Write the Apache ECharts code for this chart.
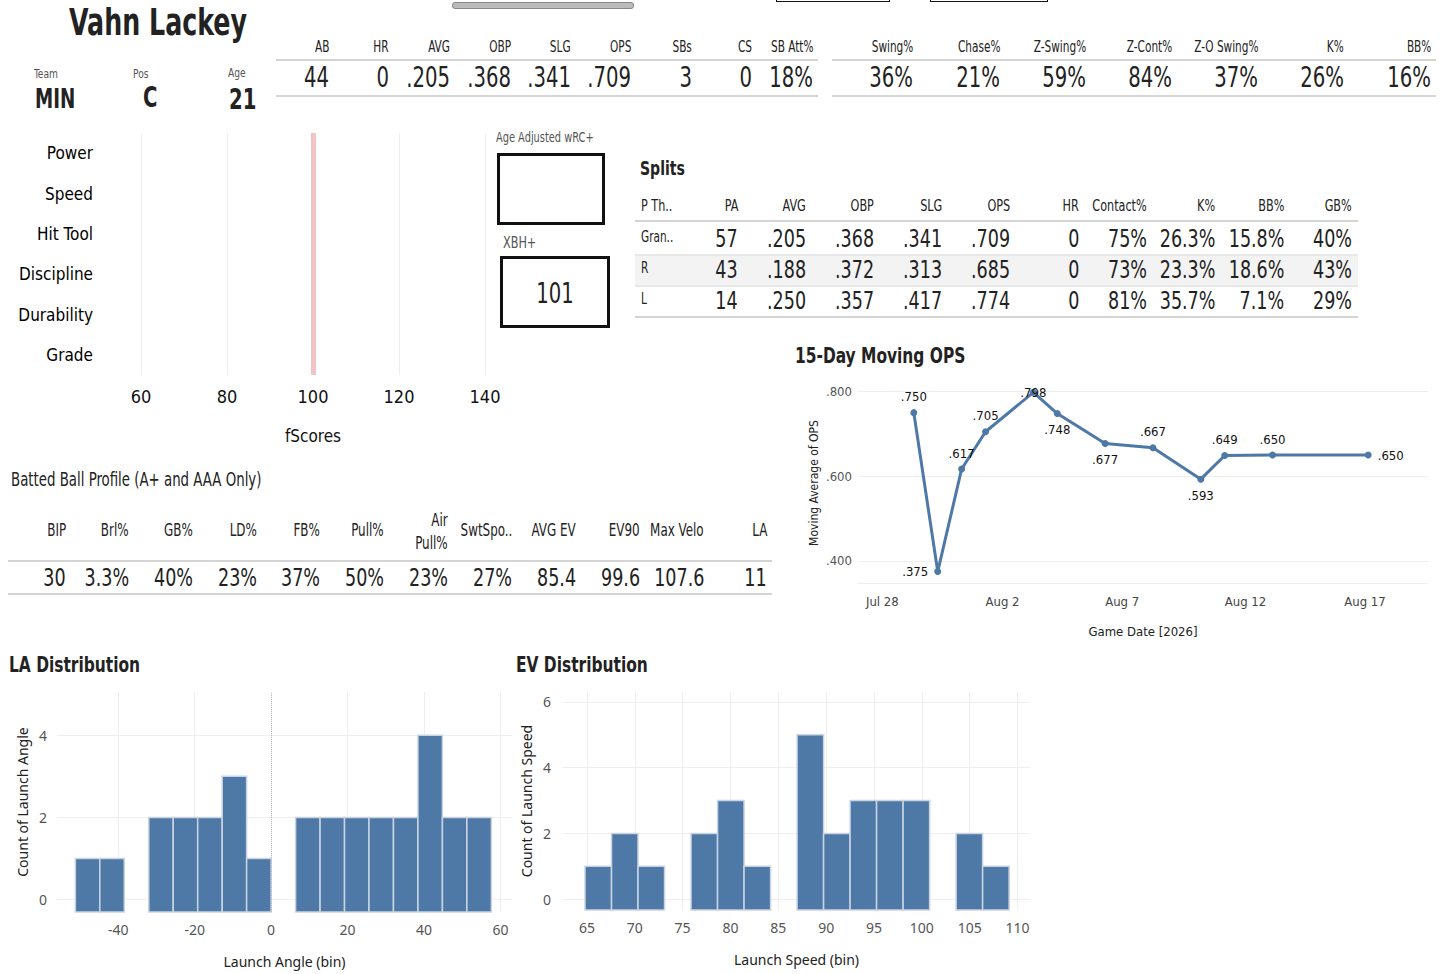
<!DOCTYPE html>
<html><head><meta charset="utf-8">
<script src="https://cdn.jsdelivr.net/npm/echarts@6/dist/echarts.min.js"></script>
<style>
body{margin:0;background:#fff;}
#wrap{position:relative;width:1456px;height:974px;overflow:hidden;font-family:'DejaVu Sans Condensed','DejaVu Sans',sans-serif;font-stretch:condensed;color:#222;}
#chart{position:absolute;left:0;top:0;width:1456px;height:974px;}
.t{position:absolute;white-space:nowrap;line-height:1;}
.ln{position:absolute;height:0;border-top:2px solid #d4d4d4;}
.box{position:absolute;border:3px solid #111;box-sizing:border-box;}
</style></head>
<body><div id="wrap"><div id="chart"></div></div>
<script>
// ---- data ----
var player = 'Vahn Lackey', team = 'MIN', pos = 'C', age = '21';
var statHdr1 = ['AB','HR','AVG','OBP','SLG','OPS','SBs','CS','SB Att%'];
var statVal1 = ['44','0','.205','.368','.341','.709','3','0','18%'];
var statHdr2 = ['Swing%','Chase%','Z-Swing%','Z-Cont%','Z-O Swing%','K%','BB%'];
var statVal2 = ['36%','21%','59%','84%','37%','26%','16%'];
var fCats = ['Power','Speed','Hit Tool','Discipline','Durability','Grade'];
var xbhPlus = '101';
var splitHdr = ['P Th..','PA','AVG','OBP','SLG','OPS','HR','Contact%','K%','BB%','GB%'];
var splitRows = [
  ['Gran..','57','.205','.368','.341','.709','0','75%','26.3%','15.8%','40%'],
  ['R','43','.188','.372','.313','.685','0','73%','23.3%','18.6%','43%'],
  ['L','14','.250','.357','.417','.774','0','81%','35.7%','7.1%','29%']
];
var bbHdr = ['BIP','Brl%','GB%','LD%','FB%','Pull%','Air<br>Pull%','SwtSpo..','AVG EV','EV90','Max Velo','LA'];
var bbVal = ['30','3.3%','40%','23%','37%','50%','23%','27%','85.4','99.6','107.6','11'];
var opsDates = ['2026-07-30','2026-07-31','2026-08-01','2026-08-02','2026-08-04','2026-08-05','2026-08-07','2026-08-09','2026-08-11','2026-08-12','2026-08-14','2026-08-18'];
var opsVals = [0.750,0.375,0.617,0.705,0.798,0.748,0.677,0.667,0.593,0.649,0.650,0.650];
var dateTicks = ['2026-07-28','2026-08-02','2026-08-07','2026-08-12','2026-08-17'];
var laBinStart = [-51.2,-44.8,-38.4,-32,-25.6,-19.2,-12.8,-6.4,0,6.4,12.8,19.2,25.6,32,38.4,44.8,51.2];
var laCounts   = [1,1,0,2,2,2,3,1,0,2,2,2,2,2,4,2,2];
var laBinW = 6.4;
var evBinStart = [64.8,67.57,70.34,73.11,75.88,78.65,81.42,84.19,86.96,89.73,92.5,95.27,98.04,100.81,103.58,106.35];
var evCounts   = [1,2,1,0,2,3,1,0,5,2,3,3,3,0,2,1];
var evBinW = 2.77;

// ---- html tables ----
var wrap = document.getElementById('wrap');
function txt(s, x, y, size, opt){
  opt = opt || {};
  var d = document.createElement('div');
  d.className = 't';
  d.innerHTML = s;
  d.style.fontSize = size + 'px';
  d.style.top = y + 'px';
  var sx = opt.sx || 0.78;
  if (opt.right) { d.style.right = (1456 - x) + 'px'; d.style.textAlign = 'right'; d.style.transformOrigin = 'right top'; }
  else if (opt.center) { d.style.left = (x - 150) + 'px'; d.style.width = '300px'; d.style.textAlign = 'center'; d.style.transformOrigin = 'center top'; }
  else { d.style.left = x + 'px'; d.style.transformOrigin = 'left top'; }
  d.style.transform = 'scaleX(' + sx + ')';
  if (opt.bold) d.style.fontWeight = 'bold';
  if (opt.color) d.style.color = opt.color;
  if (opt.lh) d.style.lineHeight = opt.lh;
  wrap.appendChild(d);
  return d;
}
function line(x1, x2, y, c){
  var d = document.createElement('div'); d.className = 'ln';
  d.style.left = x1 + 'px'; d.style.width = (x2 - x1) + 'px'; d.style.top = y + 'px';
  if (c) d.style.borderTopColor = c;
  wrap.appendChild(d);
}
function box(x, y, w, h, bw){
  var d = document.createElement('div'); d.className = 'box';
  d.style.left = x + 'px'; d.style.top = y + 'px'; d.style.width = w + 'px'; d.style.height = h + 'px';
  if (bw) d.style.borderWidth = bw;
  wrap.appendChild(d);
}

// top slider remnants
var sl = document.createElement('div');
sl.style.cssText = 'position:absolute;left:452px;top:2px;width:180px;height:5px;background:#bbb;border:1px solid #888;border-radius:3px;';
wrap.appendChild(sl);
box(776, -20, 114, 22, '1px'); box(930, -20, 118, 22, '1px');

txt(player, 158, 3, 38, {center:true, bold:true, sx:0.74});
txt('Team', 34, 67, 13, {color:'#555'}); txt('Pos', 133, 67, 13, {color:'#555'}); txt('Age', 228, 66, 13, {color:'#555'});
txt(team, 35, 86, 26, {bold:true}); txt(pos, 143, 84, 28, {bold:true}); txt(age, 229, 86, 28, {bold:true});

var r1 = [329,389,450,511,571,631,692,752,813];
statHdr1.forEach(function(h,i){ txt(h, r1[i], 40, 15, {right:true}); txt(statVal1[i], r1[i], 64, 28, {right:true}); });
line(276, 818, 59); line(276, 818, 95);
var r2 = [913,1000,1086,1172,1258,1344,1431];
statHdr2.forEach(function(h,i){ txt(h, r2[i], 40, 15, {right:true}); txt(statVal2[i], r2[i], 64, 28, {right:true}); });
line(832, 1436, 59); line(832, 1436, 95);

txt('Age Adjusted wRC+', 496, 130, 14, {color:'#555'});
box(497, 153, 108, 72);
txt('XBH+', 503, 235, 16, {color:'#555'});
box(500, 256, 110, 72);
txt(xbhPlus, 555, 280, 28, {center:true});

txt('Splits', 640, 158, 20, {bold:true});
var rs = [738,806,874,942,1010,1079,1147,1215,1284,1352];
splitHdr.forEach(function(h,i){ if(i===0) txt(h, 641, 198, 16); else txt(h, rs[i-1], 198, 16, {right:true}); });
line(635, 1358, 220);
var bgRow = document.createElement('div');
bgRow.style.cssText = 'position:absolute;left:635px;width:723px;top:254px;height:31px;background:#f3f3f3;';
wrap.insertBefore(bgRow, wrap.children[1]);
splitRows.forEach(function(row, k){
  var y = 224 + k * 31;
  row.forEach(function(v,i){ if(i===0) txt(v, 641, y+6, 15); else txt(v, rs[i-1], y+2, 25, {right:true}); });
  line(635, 1358, y + 30, k === 2 ? '#d4d4d4' : '#e8e8e8');
});

txt('Batted Ball Profile (A+ and AAA Only)', 11, 470, 19);
var rb = [66,129,193,257,320,384,448,512,576,640,704,767];
bbHdr.forEach(function(h,i){
  if (i === 6) txt(h, rb[i], 509, 17, {right:true, lh:'23px'});
  else txt(h, rb[i], 522, 17, {right:true});
});
line(8, 772, 560);
bbVal.forEach(function(v,i){ txt(v, rb[i], 565, 25, {right:true}); });
line(8, 772, 593);

txt('15-Day Moving OPS', 795, 345, 22, {bold:true});
txt('LA Distribution', 9, 654, 22, {bold:true});
txt('EV Distribution', 516, 654, 22, {bold:true});

// ---- charts ----
var chart = echarts.init(document.getElementById('chart'), null, {renderer:'svg'});
var cond = "'DejaVu Sans Condensed','Liberation Sans Narrow',sans-serif";
var sans = "'Noto Sans','Open Sans',sans-serif";
var months = ['Jan','Feb','Mar','Apr','May','Jun','Jul','Aug','Sep','Oct','Nov','Dec'];
var grey = '#eeeeee';
var labelPos = ['top','left','top','top','inside','bottom','bottom','top','bottom','top','top','right'];
function ts(s){ var p = s.split('-'); return +new Date(+p[0], +p[1]-1, +p[2]); }
var tickTs = dateTicks.map(ts);

function histItem(w){
  return function(params, api){
    var s = api.value(0), c = api.value(1);
    var p0 = api.coord([s, 0]), p1 = api.coord([s + w, c]);
    var base = api.coord([s, api.value(2)]);
    return {type:'rect', shape:{x:p0[0], y:p1[1], width:p1[0]-p0[0], height:base[1]-p1[1]},
      style:{fill:'#4e79a7', stroke:'#c9d4e2', lineWidth:1.5}};
  };
}
var laData = laBinStart.map(function(s,i){ return [s, laCounts[i], -0.3]; }).filter(function(d){ return d[1] > 0; });
var evData = evBinStart.map(function(s,i){ return [s, evCounts[i], -0.33]; }).filter(function(d){ return d[1] > 0; });

chart.setOption({
  animation:false,
  grid:[
    {left:98, width:430, top:133, height:242},
    {left:858, width:570, top:383, height:200},
    {left:57, width:455, top:692, height:220},
    {left:563, width:467, top:692, height:218}
  ],
  xAxis:[
    {gridIndex:0, type:'value', min:50, max:150, name:'fScores', nameLocation:'middle', nameGap:52,
     nameTextStyle:{fontFamily:cond, fontSize:17, color:'#111'},
     axisLine:{show:false}, axisTick:{show:false, customValues:[60,80,100,120,140]},
     axisLabel:{customValues:[60,80,100,120,140], fontFamily:cond, fontSize:18, color:'#111', margin:12},
     splitLine:{show:true, lineStyle:{color:grey}}},
    {gridIndex:1, type:'value', min:ts('2026-07-28') - 8*3600e3, max:ts('2026-08-20') + 12*3600e3,
     name:'Game Date [2026]', nameLocation:'middle', nameGap:42,
     nameTextStyle:{fontFamily:cond, fontSize:13, color:'#222'},
     axisLine:{lineStyle:{color:grey}}, axisTick:{show:false, customValues:tickTs},
     axisLabel:{customValues:tickTs,
       formatter:function(v){ var d=new Date(v); return months[d.getMonth()]+' '+d.getDate(); },
       fontFamily:cond, fontSize:13, color:'#444', margin:12, align:'left'},
     splitLine:{show:false}},
    {gridIndex:2, type:'value', min:-56, max:63, name:'Launch Angle (bin)', nameLocation:'middle', nameGap:42,
     nameTextStyle:{fontFamily:sans, fontSize:14, color:'#222'},
     axisLine:{lineStyle:{color:grey}}, axisTick:{show:false, customValues:[-40,-20,0,20,40,60]},
     axisLabel:{customValues:[-40,-20,0,20,40,60], fontFamily:sans, fontSize:14, color:'#555', margin:10},
     splitLine:{show:true, lineStyle:{color:grey}}},
    {gridIndex:3, type:'value', min:62.5, max:111.3, name:'Launch Speed (bin)', nameLocation:'middle', nameGap:42,
     nameTextStyle:{fontFamily:sans, fontSize:14, color:'#222'},
     axisLine:{lineStyle:{color:grey}}, axisTick:{show:false, customValues:[65,70,75,80,85,90,95,100,105,110]},
     axisLabel:{customValues:[65,70,75,80,85,90,95,100,105,110], fontFamily:sans, fontSize:14, color:'#555', margin:10},
     splitLine:{show:true, lineStyle:{color:grey}}}
  ],
  yAxis:[
    {gridIndex:0, type:'category', data:fCats, inverse:true, axisLine:{show:false}, axisTick:{show:false},
     axisLabel:{fontFamily:cond, fontSize:17, color:'#000', margin:5}},
    {gridIndex:1, type:'value', min:0.348, max:0.82, name:'Moving Average of OPS', nameLocation:'middle', nameGap:38,
     nameTextStyle:{fontFamily:cond, fontSize:12, color:'#222'},
     axisLine:{show:false}, axisTick:{show:false, customValues:[0.4,0.6,0.8]},
     axisLabel:{customValues:[0.4,0.6,0.8], formatter:function(v){ return v.toFixed(3).replace(/^0/,''); },
       fontFamily:cond, fontSize:13, color:'#555', margin:6},
     splitLine:{show:true, lineStyle:{color:grey}}},
    {gridIndex:2, type:'value', min:-0.3, max:5.05, name:'Count of Launch Angle', nameLocation:'middle', nameGap:28,
     nameTextStyle:{fontFamily:sans, fontSize:14, color:'#222'},
     axisLine:{show:false}, axisTick:{show:false, customValues:[0,2,4]},
     axisLabel:{customValues:[0,2,4], fontFamily:sans, fontSize:14, color:'#555', margin:10},
     splitLine:{show:true, lineStyle:{color:grey}}},
    {gridIndex:3, type:'value', min:-0.33, max:6.3, name:'Count of Launch Speed', nameLocation:'middle', nameGap:30,
     nameTextStyle:{fontFamily:sans, fontSize:14, color:'#222'},
     axisLine:{show:false}, axisTick:{show:false, customValues:[0,2,4,6]},
     axisLabel:{customValues:[0,2,4,6], fontFamily:sans, fontSize:14, color:'#555', margin:12},
     splitLine:{show:true, lineStyle:{color:grey}}}
  ],
  series:[
    {type:'scatter', xAxisIndex:0, yAxisIndex:0, data:[], silent:true,
     markLine:{symbol:'none', silent:true, label:{show:false}, lineStyle:{color:'#f2c4c4', width:5, type:'solid'},
       data:[{xAxis:100}]}},
    {type:'line', xAxisIndex:1, yAxisIndex:1,
     data:opsDates.map(function(d,i){
       return {value:[ts(d), opsVals[i]], label:{position:labelPos[i]}};
     }),
     symbol:'circle', symbolSize:7, lineStyle:{color:'#4e79a7', width:3}, itemStyle:{color:'#4e79a7'},
     label:{show:true, fontFamily:cond, fontSize:13, color:'#111', distance:6,
       formatter:function(p){ return p.value[1].toFixed(3).replace(/^0/,''); }}},
    {type:'custom', xAxisIndex:2, yAxisIndex:2, data:laData, renderItem:histItem(laBinW), encode:{x:0, y:1},
     markLine:{symbol:'none', silent:true, label:{show:false}, lineStyle:{color:'#bbb', type:'dotted', width:1}, data:[{xAxis:0}]}},
    {type:'custom', xAxisIndex:3, yAxisIndex:3, data:evData, renderItem:histItem(evBinW), encode:{x:0, y:1}}
  ]
});
</script></body></html>
